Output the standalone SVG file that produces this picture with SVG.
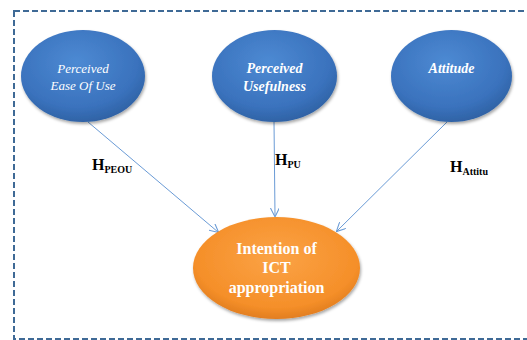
<svg xmlns="http://www.w3.org/2000/svg" width="527" height="340" viewBox="0 0 527 340">
<style>
.lbl{font-family:"Liberation Serif",serif;fill:#fff;text-anchor:middle;font-style:italic}
.h{font-family:"Liberation Serif",serif;font-weight:bold;fill:#000}
.conn{stroke:#6a9bd6;stroke-width:1;fill:none}
.blue{fill:url(#gb);filter:url(#sh)}
.ot{font-family:"Liberation Serif",serif;font-weight:bold;font-size:16px;fill:#fff;text-anchor:middle}
</style>
<defs>
<radialGradient id="gb" cx="0.45" cy="0.35" r="0.7">
<stop offset="0" stop-color="#4d8ad3"/>
<stop offset="0.7" stop-color="#3a72bd"/>
<stop offset="1" stop-color="#2c5e9e"/>
</radialGradient>
<radialGradient id="go" cx="0.5" cy="0.4" r="0.65">
<stop offset="0" stop-color="#fba346"/>
<stop offset="0.75" stop-color="#f58f29"/>
<stop offset="1" stop-color="#d9761b"/>
</radialGradient>
<filter id="sh" x="-20%" y="-20%" width="140%" height="150%">
<feDropShadow dx="1" dy="2" stdDeviation="1.5" flood-color="#000" flood-opacity="0.35"/>
</filter>
<marker id="ah" viewBox="0 0 10 10" refX="9" refY="5" markerWidth="9" markerHeight="9" orient="auto" markerUnits="userSpaceOnUse">
<path d="M0,0 L10,5 L0,10" fill="none" stroke="#6a9bd6" stroke-width="1.2"/>
</marker>
</defs>
<rect x="14" y="11" width="530" height="328" fill="none" stroke="#3f6a96" stroke-width="2" stroke-dasharray="6,3"/>
<g id="connectors">
<line class="conn" x1="88" y1="122" x2="218" y2="232" marker-end="url(#ah)"/>
<line class="conn" x1="274" y1="122" x2="275" y2="216" marker-end="url(#ah)"/>
<line class="conn" x1="447" y1="122" x2="337" y2="231" marker-end="url(#ah)"/>
</g>
<g id="peou">
<ellipse class="blue" cx="83" cy="76" rx="62" ry="46"/>
<text class="lbl" x="83" y="73" font-size="13">Perceived</text>
<text class="lbl" x="83" y="90" font-size="13">Ease Of Use</text>
</g>
<g id="pu">
<ellipse class="blue" cx="274.5" cy="76" rx="62.5" ry="46"/>
<text class="lbl" x="274.5" y="73" font-size="14" font-weight="bold">Perceived</text>
<text class="lbl" x="274.5" y="91" font-size="14" font-weight="bold">Usefulness</text>
</g>
<g id="attitude">
<ellipse class="blue" cx="451.5" cy="76" rx="60.5" ry="46"/>
<text class="lbl" x="451.5" y="73" font-size="14" font-weight="bold">Attitude</text>
</g>
<g id="intention">
<ellipse cx="276.5" cy="268" rx="83.5" ry="51" fill="url(#go)" filter="url(#sh)"/>
<text class="ot" x="276.5" y="254">Intention of</text>
<text class="ot" x="276.5" y="273">ICT</text>
<text class="ot" x="276.5" y="293">appropriation</text>
</g>
<g id="labels">
<text class="h" x="92" y="170" font-size="16">H<tspan font-size="10" dy="3">PEOU</tspan></text>
<text class="h" x="275" y="165" font-size="16">H<tspan font-size="10" dy="3">PU</tspan></text>
<text class="h" x="450" y="172" font-size="16">H<tspan font-size="10" dy="3">Attitu</tspan></text>
</g>
</svg>
